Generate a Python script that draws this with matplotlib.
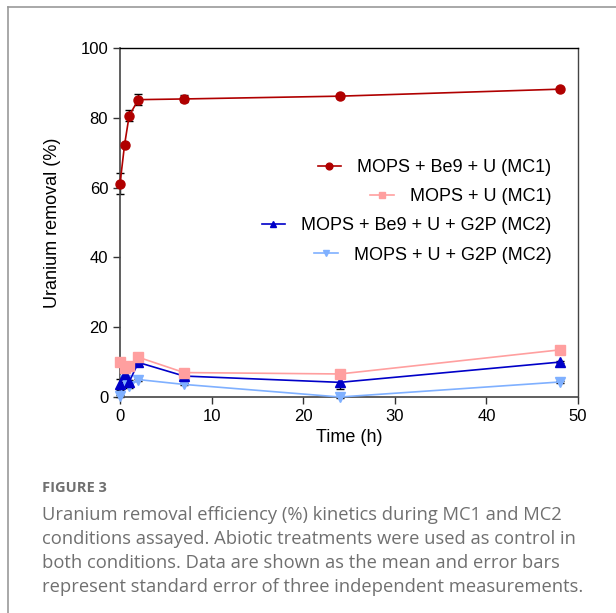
import matplotlib
matplotlib.use("Agg")
import matplotlib.pyplot as plt
import numpy as np

plt.rcParams["font.family"] = ["Liberation Sans", "DejaVu Sans"]

# data
time_h = np.array([0, 0.5, 1, 2, 7, 24, 48])
be9_mc1 = np.array([61.1, 72.3, 80.6, 85.2, 85.4, 86.2, 88.2])
be9_mc1_err = np.array([3.0, 0.5, 1.5, 1.6, 1.0, 0.4, 0.4])
u_mc1 = np.array([10.0, 8.4, 8.8, 11.4, 7.0, 6.6, 13.5])
u_mc1_err = np.array([0.3, 1.0, 0.8, 0.4, 0.4, 0.3, 1.1])
be9_mc2 = np.array([3.6, 6.6, 4.3, 9.9, 6.0, 4.2, 10.0])
be9_mc2_err = np.array([1.5, 1.0, 0.5, 0.4, 0.6, 1.8, 0.3])
u_mc2 = np.array([0.3, 4.8, 3.1, 5.0, 3.6, 0.0, 4.3])
u_mc2_err = np.array([0.3, 0.5, 0.4, 0.3, 0.3, 0.2, 0.3])

labels = ["MOPS + Be9 + U (MC1)", "MOPS + U (MC1)",
          "MOPS + Be9 + U + G2P (MC2)", "MOPS + U + G2P (MC2)"]
colors = ["#b00000", "#ff9f9f", "#0000c8", "#7fb0ff"]
markers = ["o", "s", "^", "v"]

fig = plt.figure(figsize=(6.16, 6.13), dpi=100)
ax = fig.add_axes([120 / 616, 1 - 397 / 613, 458 / 616, 349 / 613])

series = [(u_mc2, u_mc2_err), (be9_mc2, be9_mc2_err),
          (u_mc1, u_mc1_err), (be9_mc1, be9_mc1_err)]
order = [3, 2, 1, 0]
handles = {}
for idx, (y, e) in zip(order, series):
    ax.errorbar(time_h, y, yerr=e, fmt="none", ecolor="black",
                elinewidth=1, capsize=3, capthick=1, zorder=2)
    h, = ax.plot(time_h, y, color=colors[idx], marker=markers[idx],
                 markersize=6.5, linewidth=1.2, zorder=3, label=labels[idx])
    handles[idx] = h

ax.set_xlim(0, 50)
ax.set_ylim(0, 100)
ax.set_xticks([0, 10, 20, 30, 40, 50])
ax.set_yticks([0, 20, 40, 60, 80, 100])
ax.tick_params(direction="out", length=5, width=1, labelsize=12, colors="#333333",
               labelcolor="black")
for s in ax.spines.values():
    s.set_color("#444444")
    s.set_linewidth(1.2)
ax.spines["top"].set_color("black")
ax.spines["top"].set_linewidth(1.0)
ax.spines["right"].set_linewidth(1.0)
for ln in ax.lines:
    ln.set_clip_on(False)
ax.set_xlabel("Time (h)", fontsize=13, labelpad=4)
ax.set_ylabel("Uranium removal (%)", fontsize=13, labelpad=14)

leg = ax.legend([handles[i] for i in range(4)], labels, loc="upper right",
                bbox_to_anchor=(0.958, 0.703), frameon=False, fontsize=13,
                handlelength=1.3, handletextpad=0.9, labelspacing=0.68,
                borderaxespad=0, markerscale=0.75)
for vp in leg._legend_handle_box.get_children():
    vp.align = "right"

# page frame lines
fig.add_artist(plt.Line2D([8 / 616, 1], [1 - 7 / 613, 1 - 7 / 613],
                          transform=fig.transFigure, color="#999999", lw=1.2))
fig.add_artist(plt.Line2D([8 / 616, 8 / 616], [0, 1 - 7 / 613],
                          transform=fig.transFigure, color="#999999", lw=1.2))

# caption
fig.text(42 / 616, 1 - 488 / 613, "FIGURE 3", fontsize=10.5, fontweight="bold",
         color="#707070", family=["Open Sans", "DejaVu Sans"], va="center")
caption = ("Uranium removal efficiency (%) kinetics during MC1 and MC2\n"
           "conditions assayed. Abiotic treatments were used as control in\n"
           "both conditions. Data are shown as the mean and error bars\n"
           "represent standard error of three independent measurements.")
fig.text(42 / 616, 1 - 506 / 613, caption, fontsize=13.2, color="#707070",
         family=["Open Sans", "DejaVu Sans"], va="top", linespacing=1.44)

fig.savefig("out.png", dpi=100)
